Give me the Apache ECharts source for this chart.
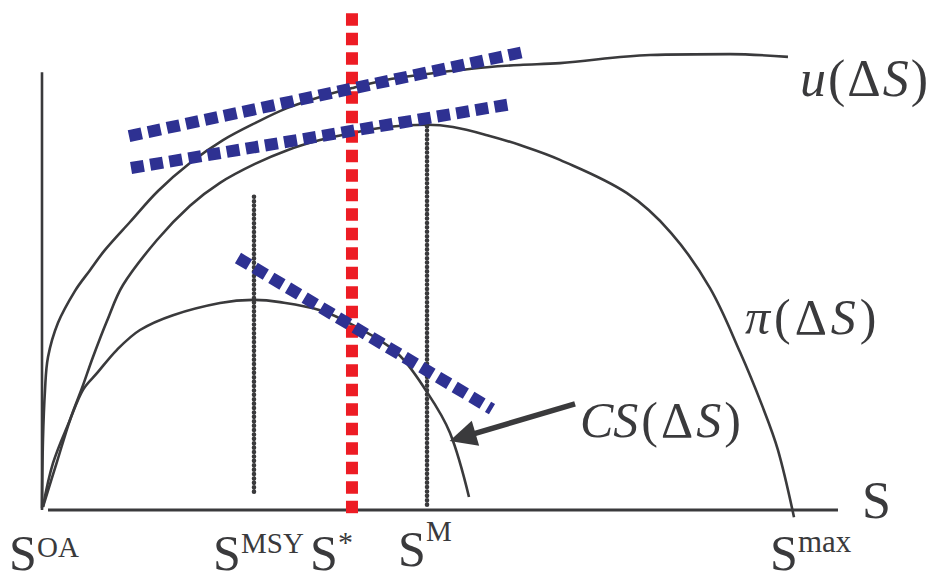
<!DOCTYPE html>
<html><head><meta charset="utf-8">
<script src="https://cdn.jsdelivr.net/npm/echarts@6/dist/echarts.min.js"></script>
<style>html,body{margin:0;padding:0;background:#fff}#c{width:929px;height:582px}</style>
</head><body><div id="c"></div>
<script>
// ---- data (S on x, value on y) ----
const uCurve = [[0,0.4],[0.13,15.6],[0.40,26.7],[0.80,34.0],[2.13,41.6],[4.39,48.7],[6.38,53.3],[8.38,57.8],[11.70,64.0],[15.43,70.9],[19.68,77.1],[24.07,82.2],[28.59,86.2],[32.58,89.3],[36.97,91.8],[41.36,93.8],[45.88,95.6],[50.27,96.7],[54.65,97.6],[59.18,98.4],[63.56,98.9],[68.88,99.3],[80.85,101.1],[91.49,101.3],[99.2,100.7]];
const piCurve = [[0.13,0.7],[1.99,10.7],[3.72,20.0],[5.32,27.1],[6.78,34.0],[8.64,42.0],[10.77,50.0],[15.29,60.0],[19.68,67.6],[23.67,72.7],[28.32,76.9],[32.71,80.0],[36.97,82.2],[41.36,83.8],[45.88,85.1],[51.2,85.6],[54.65,85.1],[59.18,83.3],[63.56,81.1],[68.88,77.8],[77.79,70.4],[83.64,61.6],[88.83,49.3],[92.82,35.1],[95.74,23.3],[97.87,13.3],[100,-1.6]];
const csCurve = [[0.13,0.7],[1.46,10.4],[3.72,20.0],[5.45,26.7],[7.31,30.4],[9.97,35.6],[13.03,40.0],[17.42,43.3],[23.67,46.0],[28.06,46.7],[31.65,46.2],[36.97,44.4],[41.36,41.1],[47.21,34.9],[51.2,26.2],[54.26,17.1],[56.78,2.9]];
const yAxisLine = [[0,97.3],[0,0]];
const xAxisLine = [[0.8,0],[105.85,0]];
const msyGuide = [[28.19,69.6],[28.19,3.1]];
const mGuide = [[51.2,85.3],[51.2,0.9]];
const starGuide = [[41.22,110.4],[41.22,-1.8]];
const uTangent = [[11.57,83.1],[64.1,101.8]];
const piTangent = [[11.84,76.0],[62.37,90.2]];
const csTangent = [[26.06,56.0],[59.84,22.4]];
const arrowFrom = [70.88,23.6];
const arrowTo = [55.92,16.2];
const tickLabels = ['OA','MSY','*','M','max'];
const axisName = 'S';

const INK = '#3a3a3c', RED = '#ed1c24', BLUE = '#2e3192';
const FF = "'Liberation Serif','Times New Roman',serif";

function lineSeries(data, style, z) {
  return {type:'line', data, showSymbol:false, symbol:'none', smooth:false, silent:true, z:z||2,
    lineStyle:Object.assign({color:INK, width:2.6}, style), animation:false};
}
function curve(data) {
  return {type:'line', data, showSymbol:false, symbol:'none', smooth:0.35, silent:true, z:2,
    lineStyle:{color:INK, width:2.6}, animation:false};
}

const chart = echarts.init(document.getElementById('c'), null, {renderer:'svg'});

function T(x, baseline, text, size) {
  return {type:'text', x:x, y:baseline - 0.34*size, silent:true,
    style:{text:text, fill:INK, fontFamily:FF, fontSize:size, textAlign:'left', align:'left',
      textVerticalAlign:'middle', verticalAlign:'middle'}};
}
function R(x, baseline, text, size, pad) {
  const base = {fill:INK, fontFamily:FF, fontSize:size};
  return {type:'text', x:x, y:baseline - 0.34*size, silent:true,
    style:{text:text, fill:INK, fontFamily:FF, fontSize:size, textAlign:'left', align:'left',
      textVerticalAlign:'middle', verticalAlign:'middle',
      rich:{
        i0:Object.assign({fontStyle:'italic'}, base),
        i:Object.assign({fontStyle:'italic', padding:[0,0,0,pad]}, base),
        n:Object.assign({fontStyle:'normal', padding:[0,0,0,pad]}, base)
      }}};
}

const option = {
  backgroundColor:'#fff',
  animation:false,
  grid:{left:11.92, right:14.68, top:6, bottom:27, containLabel:false},
  xAxis:{type:'value', min:-4, max:116, show:false},
  yAxis:{type:'value', min:-10, max:112, show:false},
  series:[
    lineSeries(yAxisLine, {width:2.6}),
    lineSeries(xAxisLine, {width:3}),
    curve(uCurve),
    curve(piCurve),
    curve(csCurve),
    lineSeries(msyGuide, {width:4.6, type:[0.001,4.4], cap:'round'}, 3),
    lineSeries(mGuide, {width:4.6, type:[0.001,4.4], cap:'round'}, 3),
    lineSeries(starGuide, {color:RED, width:12, type:[12.5,7], cap:'butt'}, 4),
    lineSeries(uTangent, {color:BLUE, width:12, type:[13,6.4], cap:'butt'}, 5),
    lineSeries(piTangent, {color:BLUE, width:12, type:[13,6.4], cap:'butt'}, 5),
    lineSeries(csTangent, {color:BLUE, width:12, type:[13,6.4], cap:'butt'}, 5),
    {type:'line', data:[], silent:true, z:6, animation:false,
      markLine:{silent:true, animation:false, symbol:['none','triangle'], symbolSize:[26,27],
        label:{show:false}, lineStyle:{color:INK, width:5.5, type:'solid'},
        emphasis:{disabled:true},
        data:[[{coord:arrowFrom},{coord:arrowTo}]]}}
  ],
  graphic:[
    T(9, 570, 'S', 50),   T(37, 557, tickLabels[0], 29),
    T(213, 570, 'S', 50), T(241, 553, tickLabels[1], 29),
    T(310, 570, 'S', 50), T(338, 552, tickLabels[2], 30),
    T(398, 566, 'S', 50), T(426, 541, tickLabels[3], 29),
    T(770, 570, 'S', 50), T(798, 552, tickLabels[4], 31),
    T(862, 518, axisName, 52),
    R(800, 96, '{i0|u}{n|(}{n|Δ}{i|S}{n|)}', 52, 2),
    R(745, 334, '{i0|π}{n|(}{n|Δ}{i|S}{n|)}', 50, 4),
    R(580, 437, '{i0|CS}{n|(}{n|Δ}{i|S}{n|)}', 50, 3)
  ]
};
chart.setOption(option);
</script></body></html>
